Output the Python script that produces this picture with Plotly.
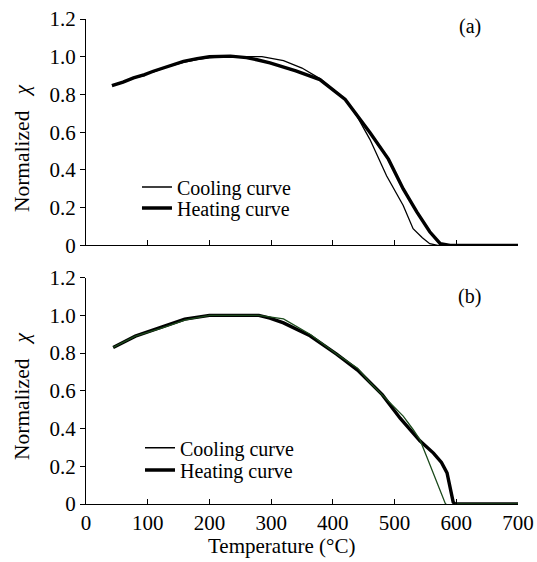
import plotly.graph_objects as go
from plotly.subplots import make_subplots

# Panel (a)
a_heat_T = [42, 60, 77, 95, 109, 130, 158, 180, 200, 234, 260, 277, 298, 340, 379, 420, 460, 490, 514, 536, 557, 574, 590, 700]
a_heat_X = [0.847, 0.865, 0.888, 0.905, 0.923, 0.945, 0.975, 0.99, 1.0, 1.003, 0.995, 0.984, 0.967, 0.925, 0.879, 0.773, 0.598, 0.457, 0.299, 0.177, 0.072, 0.009, 0.0, 0.0]
a_cool_T = [42, 60, 77, 95, 100, 109, 130, 158, 180, 200, 230, 260, 285, 320, 350, 379, 420, 439, 460, 487, 514, 530, 545, 557, 570, 700]
a_cool_X = [0.85, 0.866, 0.888, 0.9, 0.915, 0.918, 0.945, 0.97, 0.985, 0.995, 1.0, 1.0, 1.0, 0.979, 0.94, 0.884, 0.775, 0.685, 0.562, 0.369, 0.211, 0.088, 0.04, 0.009, 0.0, 0.0]

# Panel (b)
b_heat_T = [44, 80, 120, 160, 200, 240, 280, 298, 320, 363, 406, 440, 460, 480, 509, 541, 563, 576, 585, 590, 595, 598, 700]
b_heat_X = [0.83, 0.89, 0.935, 0.98, 1.0, 1.0, 1.0, 0.985, 0.96, 0.892, 0.795, 0.71, 0.645, 0.58, 0.455, 0.335, 0.27, 0.22, 0.165, 0.09, 0.01, 0.0, 0.0]
b_cool_T = [44, 80, 120, 160, 200, 240, 280, 320, 363, 406, 440, 460, 480, 514, 530, 541, 552, 563, 574, 582, 587, 595, 600, 700]
b_cool_X = [0.83, 0.89, 0.93, 0.975, 1.0, 1.0, 1.0, 0.981, 0.9, 0.795, 0.72, 0.644, 0.58, 0.466, 0.395, 0.341, 0.252, 0.164, 0.075, 0.004, -0.015, -0.01, 0.0, 0.0]

y_ticks = [0, 0.2, 0.4, 0.6, 0.8, 1.0, 1.2]
y_ticktext = ["0", "0.2", "0.4", "0.6", "0.8", "1.0", "1.2"]
x_ticks = [0, 100, 200, 300, 400, 500, 600, 700]
x_ticktext = ["0", "100", "200", "300", "400", "500", "600", "700"]

FONT = "Liberation Serif, Times New Roman, serif"
total_h = 504 - 19
fig = make_subplots(rows=2, cols=1, shared_xaxes=False, vertical_spacing=(279 - 246.7) / total_h)

THIN, THICK = 1.3, 3.4
fig.add_trace(go.Scatter(x=a_cool_T, y=a_cool_X, mode="lines", name="Cooling curve",
                         line=dict(color="black", width=THIN), legend="legend"), row=1, col=1)
fig.add_trace(go.Scatter(x=a_heat_T, y=a_heat_X, mode="lines", name="Heating curve",
                         line=dict(color="black", width=THICK), legend="legend2"), row=1, col=1)
fig.add_trace(go.Scatter(x=b_heat_T, y=b_heat_X, mode="lines", name="Heating curve",
                         line=dict(color="black", width=THICK), showlegend=False), row=2, col=1)
fig.add_trace(go.Scatter(x=b_cool_T, y=b_cool_X, mode="lines", name="Cooling curve",
                         line=dict(color="#1c4a1c", width=THIN), showlegend=False), row=2, col=1)
# legend entries for (b) (black keys as in reference)
fig.add_trace(go.Scatter(x=[None], y=[None], mode="lines", name="Cooling curve",
                         line=dict(color="black", width=THIN), legend="legend3"), row=2, col=1)
fig.add_trace(go.Scatter(x=[None], y=[None], mode="lines", name="Heating curve",
                         line=dict(color="black", width=THICK), legend="legend4"), row=2, col=1)

axis_common = dict(showgrid=False, zeroline=False, showline=True, linecolor="black", linewidth=1.3,
                   ticks="outside", ticklen=5, tickcolor="black", tickwidth=1.3, automargin=False,
                   ticklabeloverflow="allow",
                   tickfont=dict(family=FONT, size=21, color="black"))

for r in (1, 2):
    fig.update_yaxes(range=[0, 1.2], tickvals=y_ticks, ticktext=y_ticktext, **axis_common, row=r, col=1)
    fig.update_xaxes(range=[0, 700], tickvals=x_ticks, ticktext=x_ticktext,
                     **{**axis_common, "ticks": "inside"}, row=r, col=1)

fig.update_xaxes(showticklabels=False, row=1, col=1)

title_font = dict(family=FONT, size=21.5, color="black")
ytitle = "Normalized\u00a0\u00a0\u00a0<i>χ</i>"
fig.add_annotation(text=ytitle, xref="paper", yref="paper", x=-0.148, y=0.734, textangle=-90,
                   showarrow=False, font=title_font, xanchor="center", yanchor="middle")
fig.add_annotation(text=ytitle, xref="paper", yref="paper", x=-0.148, y=0.2227, textangle=-90,
                   showarrow=False, font=title_font, xanchor="center", yanchor="middle")
fig.add_annotation(text="Temperature (°C)", xref="paper", yref="paper", x=0.4525, y=-0.0856,
                   showarrow=False, font=dict(family=FONT, size=21, color="black"),
                   xanchor="center", yanchor="middle")

fig.add_annotation(text="(a)", xref="x domain", yref="y domain", x=0.888, y=0.965, showarrow=False,
                   font=dict(family=FONT, size=20, color="black"), xanchor="center", yanchor="middle")
fig.add_annotation(text="(b)", xref="x2 domain", yref="y2 domain", x=0.888, y=0.916, showarrow=False,
                   font=dict(family=FONT, size=20, color="black"), xanchor="center", yanchor="middle")

leg_font = dict(family=FONT, size=20, color="black")
def leg(x, y):
    return dict(x=x, y=y, xanchor="left", yanchor="middle", font=leg_font,
                bgcolor="rgba(0,0,0,0)", itemwidth=30)

fig.update_layout(
    width=537, height=562,
    margin=dict(l=86, r=19, t=19, b=58),
    paper_bgcolor="white", plot_bgcolor="white",
    legend=leg(0.118, 0.6536),
    legend2=leg(0.118, 0.6103),
    legend3=leg(0.125, 0.116),
    legend4=leg(0.125, 0.070),
)

# remove the page's default body margin so the 537x562 figure fills the window exactly
fig.write_html("out.html", config={"displayModeBar": False},
               post_script="document.body.style.margin='0';document.body.style.overflow='hidden';")
